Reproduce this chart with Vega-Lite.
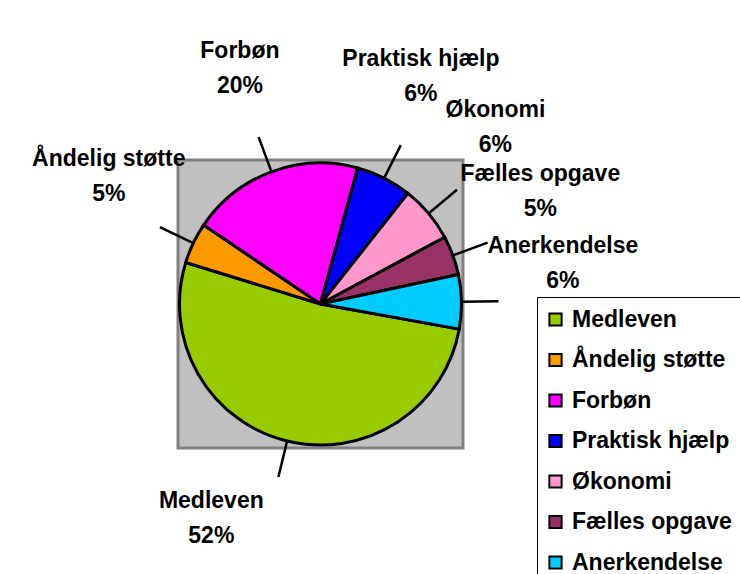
{
  "$schema": "https://vega.github.io/schema/vega-lite/v6.json",
  "width": 285,
  "height": 288,
  "autosize": {"type": "none"},
  "padding": {"left": 178, "top": 160, "right": 277, "bottom": 126},
  "background": "white",
  "config": {
    "font": "Liberation Sans",
    "view": {"stroke": null}
  },
  "data": {
    "values": [
      {"nr": 1, "kategori": "Medleven", "andel": 51.9, "etiket": "Medleven\n52%"},
      {"nr": 2, "kategori": "Åndelig støtte", "andel": 4.7, "etiket": "Åndelig støtte\n5%"},
      {"nr": 3, "kategori": "Forbøn", "andel": 19.8, "etiket": "Forbøn\n20%"},
      {"nr": 4, "kategori": "Praktisk hjælp", "andel": 6.4, "etiket": "Praktisk hjælp\n6%"},
      {"nr": 5, "kategori": "Økonomi", "andel": 6.5, "etiket": "Økonomi\n6%"},
      {"nr": 6, "kategori": "Fælles opgave", "andel": 4.5, "etiket": "Fælles opgave\n5%"},
      {"nr": 7, "kategori": "Anerkendelse", "andel": 6.2, "etiket": "Anerkendelse\n6%"}
    ]
  },
  "layer": [
    {
      "data": {"values": [{}]},
      "mark": {"type": "rect", "fill": "#c0c0c0", "stroke": "#808080", "strokeWidth": 3},
      "encoding": {}
    },
    {
      "mark": {"type": "arc", "radius": 141, "stroke": "black", "strokeWidth": 3},
      "encoding": {
        "theta": {"field": "andel", "type": "quantitative", "stack": true, "scale": {"range": [1.75, 8.033]}},
        "order": {"field": "nr", "type": "quantitative"},
        "color": {
          "field": "kategori",
          "type": "nominal",
          "scale": {
            "domain": ["Medleven", "Åndelig støtte", "Forbøn", "Praktisk hjælp", "Økonomi", "Fælles opgave", "Anerkendelse"],
            "range": ["#99cc00", "#ff9900", "#ff00ff", "#0000ff", "#ff99cc", "#993366", "#00ccff"]
          },
          "legend": {
            "orient": "none",
            "legendX": 359,
            "legendY": 137,
            "title": null,
            "symbolType": "square",
            "symbolSize": 150,
            "symbolStrokeColor": "black",
            "symbolStrokeWidth": 2,
            "symbolOpacity": 1,
            "symbolOffset": -4,
            "labelFont": "Liberation Sans",
            "labelFontSize": 23,
            "labelFontWeight": "bold",
            "labelColor": "black",
            "labelLimit": 300,
            "labelOffset": 5,
            "rowPadding": 16.5,
            "padding": 11,
            "strokeColor": "black",
            "fillColor": "white"
          }
        }
      }
    },
    {
      "mark": {"type": "arc", "innerRadius": 141, "radius": 178, "padAngle": 3.1, "stroke": "black", "strokeWidth": 2.5, "fill": "transparent"},
      "encoding": {
        "theta": {"field": "andel", "type": "quantitative", "stack": true, "scale": {"range": [1.75, 8.033]}},
        "order": {"field": "nr", "type": "quantitative"},
        "opacity": {"condition": {"test": {"field": "andel", "gte": 50}, "value": 0}, "value": 1}
      }
    },
    {
      "mark": {"type": "arc", "innerRadius": 141, "radius": 178, "padAngle": 3.1, "thetaOffset": 0.8153, "stroke": "black", "strokeWidth": 2.5, "fill": "transparent"},
      "encoding": {
        "theta": {"field": "andel", "type": "quantitative", "stack": true, "scale": {"range": [1.75, 4.8916]}},
        "order": {"field": "nr", "type": "quantitative"},
        "opacity": {"condition": {"test": {"field": "andel", "gte": 50}, "value": 1}, "value": 0}
      }
    },
    {
      "mark": {"type": "text", "radius": 245, "fontSize": 23, "fontWeight": "bold", "lineBreak": "\n", "lineHeight": 35, "align": "center", "baseline": "middle", "dy": -22, "color": "black"},
      "encoding": {
        "theta": {"field": "andel", "type": "quantitative", "stack": true, "scale": {"range": [2.103, 7.885]}},
        "order": {"field": "nr", "type": "quantitative"},
        "text": {"field": "etiket", "type": "nominal"}
      }
    }
  ],
  "resolve": {"scale": {"theta": "independent"}}
}
